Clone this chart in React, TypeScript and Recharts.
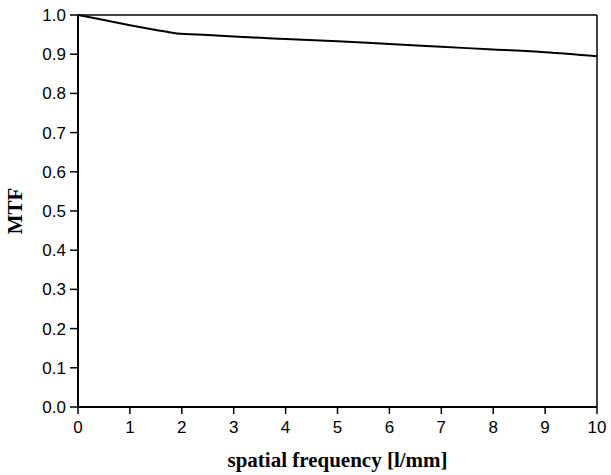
import { LineChart, Line, XAxis, YAxis, ReferenceLine } from "recharts";

const frequency = [0, 0.5, 1, 1.5, 1.9, 2.5, 3, 4, 5, 6, 7, 8, 9, 10];
const mtf = [1.0, 0.987, 0.974, 0.962, 0.953, 0.949, 0.945, 0.939, 0.933, 0.926, 0.919, 0.912, 0.905, 0.895];
const xTicks = [0, 1, 2, 3, 4, 5, 6, 7, 8, 9, 10];
const yTicks = [0, 0.1, 0.2, 0.3, 0.4, 0.5, 0.6, 0.7, 0.8, 0.9, 1.0];

const data = frequency.map((f, i) => ({ f, mtf: mtf[i] }));

const tickFont = { fill: "#000", fontSize: 17, fontFamily: "Liberation Sans, Arial, sans-serif" };
const titleFont = { fill: "#000", fontSize: 21, fontWeight: "bold", fontFamily: "Liberation Serif, Times New Roman, serif" };

export default function App() {
  return (
    <div style={{ position: "absolute", left: 0, top: 0, width: 611, height: 475, background: "#fff" }}>
      <LineChart width={611} height={475} data={data} margin={{ top: 15, right: 14, left: 0, bottom: 0 }}>
        <XAxis
          dataKey="f"
          type="number"
          domain={[0, 10]}
          ticks={xTicks}
          height={68}
          axisLine={{ stroke: "#000", strokeWidth: 2 }}
          tickLine={{ stroke: "#000", strokeWidth: 1.5 }}
          tickSize={7}
          tick={tickFont}
          tickMargin={7}
          label={{
            value: "spatial frequency [l/mm]",
            position: "insideBottom",
            offset: 8,
            style: titleFont,
          }}
        />
        <YAxis
          type="number"
          domain={[0, 1]}
          ticks={yTicks}
          width={78}
          axisLine={{ stroke: "#000", strokeWidth: 2 }}
          tickLine={{ stroke: "#000", strokeWidth: 1.5 }}
          tickSize={8}
          tickMargin={4}
          tick={tickFont}
          tickFormatter={(v: number) => v.toFixed(1)}
          label={{
            value: "MTF",
            angle: -90,
            position: "insideLeft",
            offset: 15,
            style: { ...titleFont, textAnchor: "middle" },
          }}
        />
        <ReferenceLine y={1} stroke="#000" strokeWidth={1.5} />
        <ReferenceLine x={10} stroke="#000" strokeWidth={1.5} />
        <Line
          type="monotone"
          dataKey="mtf"
          stroke="#000"
          strokeWidth={2}
          dot={false}
          isAnimationActive={false}
        />
      </LineChart>
    </div>
  );
}
